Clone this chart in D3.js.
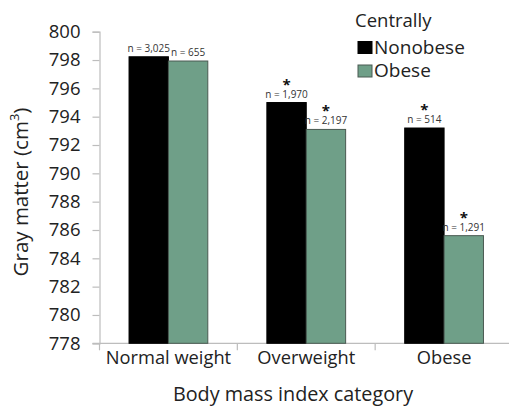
<!DOCTYPE html>
<html>
<head>
<meta charset="utf-8">
<script src="https://cdn.jsdelivr.net/npm/d3@7"></script>
<style>
  body { margin: 0; background: #fff; }
  text { font-family: "Open Sans", "Noto Sans", sans-serif; }
</style>
</head>
<body>
<div id="chart"></div>
<script>
var svgWidth = 509;
var svgHeight = 408;

// chart data
var categories = ["Normal weight", "Overweight", "Obese"];
var seriesNames = ["Nonobese", "Obese"];
var nonobese = [798.23, 795.0, 793.2];
var obese = [797.93, 793.1, 785.6];
var nNonobese = ["n = 3,025", "n = 1,970", "n = 514"];
var nObese = ["n = 655", "n = 2,197", "n = 1,291"];
var starNonobese = [false, true, true];
var starObese = [false, true, true];
var yTicks = [778, 780, 782, 784, 786, 788, 790, 792, 794, 796, 798, 800];

var colors = ["#000000", "#6f9f88"];

var margin = { top: 31.7, left: 99.5, bottom: 64.7 };
var plotRight = 513;

var svg = d3.select("#chart")
  .append("svg")
  .attr("width", svgWidth)
  .attr("height", svgHeight);

// scales
var x0 = d3.scaleBand()
  .domain(categories)
  .range([margin.left, plotRight])
  .padding(0);

var x1 = d3.scaleBand()
  .domain(seriesNames)
  .range([0, x0.bandwidth()])
  .paddingInner(0)
  .paddingOuter(0.75);

var y = d3.scaleLinear()
  .domain([778, 800])
  .range([svgHeight - margin.bottom, margin.top]);

// build rows
var rows = [];
categories.forEach(function(c, i) {
  rows.push({ cat: c, s: "Nonobese", v: nonobese[i], n: nNonobese[i], star: starNonobese[i], color: colors[0] });
  rows.push({ cat: c, s: "Obese", v: obese[i], n: nObese[i], star: starObese[i], color: colors[1] });
});

// y axis
var leftAxis = d3.axisLeft(y)
  .tickValues(yTicks)
  .tickSize(7)
  .tickPadding(12)
  .tickFormat(d3.format("d"));

var yAxis = svg.append("g")
  .attr("transform", `translate(${margin.left}, 0)`)
  .call(leftAxis);
yAxis.select(".domain").attr("stroke", "#bdbdbd").attr("stroke-width", 1.2);
yAxis.selectAll(".tick line").attr("stroke", "#bdbdbd").attr("stroke-width", 1.2);
yAxis.selectAll(".tick text")
  .attr("font-size", "18.5px")
  .attr("fill", "#222")
  .style("font-family", "'Open Sans', sans-serif");

// x axis
var bottomAxis = d3.axisBottom(x0)
  .tickSize(0)
  .tickPadding(8);

var xAxis = svg.append("g")
  .attr("transform", `translate(0, ${y(778)})`)
  .call(bottomAxis);
xAxis.select(".domain").remove();
xAxis.append("line")
  .attr("x1", margin.left - 7)
  .attr("x2", svgWidth)
  .attr("stroke", "#bdbdbd")
  .attr("stroke-width", 1.2);
// category separators
xAxis.selectAll(".sep")
  .data(categories)
  .enter()
  .append("line")
  .attr("x1", d => x0(d))
  .attr("x2", d => x0(d))
  .attr("y1", 0)
  .attr("y2", 7)
  .attr("stroke", "#bdbdbd")
  .attr("stroke-width", 1.2);
xAxis.selectAll(".tick text")
  .attr("font-size", "18.3px")
  .attr("fill", "#222")
  .style("font-family", "'Open Sans', sans-serif");

// bars
svg.selectAll(".bar")
  .data(rows)
  .enter()
  .append("rect")
  .attr("class", "bar")
  .attr("x", d => x0(d.cat) + x1(d.s))
  .attr("y", d => y(d.v))
  .attr("width", x1.bandwidth())
  .attr("height", d => y(778) - y(d.v))
  .attr("fill", d => d.color)
  .attr("stroke", d => d.s === "Obese" ? "#4a5a52" : "#000")
  .attr("stroke-width", 1);

// n labels
svg.selectAll(".nlabel")
  .data(rows)
  .enter()
  .append("text")
  .attr("class", "nlabel")
  .attr("x", d => x0(d.cat) + x1(d.s) + x1.bandwidth() / 2)
  .attr("y", d => y(d.v) - 5)
  .attr("text-anchor", "middle")
  .attr("font-size", "10px")
  .attr("fill", "#333")
  .text(d => d.n);

// significance stars
svg.selectAll(".star")
  .data(rows.filter(d => d.star))
  .enter()
  .append("text")
  .attr("class", "star")
  .attr("x", d => x0(d.cat) + x1(d.s) + x1.bandwidth() / 2)
  .attr("y", d => y(d.v) - 13)
  .attr("text-anchor", "middle")
  .attr("font-size", "15px")
  .attr("font-weight", "bold")
  .attr("fill", "#111")
  .text("*");

// axis titles
svg.append("text")
  .attr("transform", "rotate(-90)")
  .attr("x", -192)
  .attr("y", 28)
  .attr("text-anchor", "middle")
  .attr("font-size", "20.5px")
  .attr("fill", "#222")
  .html("Gray matter (cm<tspan baseline-shift='super' font-size='13px'>3</tspan>)");

svg.append("text")
  .attr("x", 293)
  .attr("y", 401)
  .attr("text-anchor", "middle")
  .attr("font-size", "19.8px")
  .attr("fill", "#222")
  .text("Body mass index category");

// legend
var legend = svg.append("g")
  .attr("transform", "translate(355, 0)");

legend.append("text")
  .attr("x", 0)
  .attr("y", 27)
  .attr("font-size", "18.5px")
  .attr("fill", "#222")
  .text("Centrally");

var legendItems = legend.selectAll(".legend-item")
  .data(seriesNames)
  .enter()
  .append("g")
  .attr("class", "legend-item")
  .attr("transform", (d, i) => `translate(0, ${41.5 + i * 23.5})`);

legendItems.append("rect")
  .attr("x", 3)
  .attr("y", 0)
  .attr("width", 14)
  .attr("height", 12)
  .attr("fill", (d, i) => colors[i])
  .attr("stroke", (d, i) => i === 1 ? "#4a5a52" : "#000")
  .attr("stroke-width", 1);

legendItems.append("text")
  .attr("x", 19)
  .attr("y", 12)
  .attr("font-size", "19px")
  .attr("fill", "#222")
  .text(d => d);
</script>
</body>
</html>
